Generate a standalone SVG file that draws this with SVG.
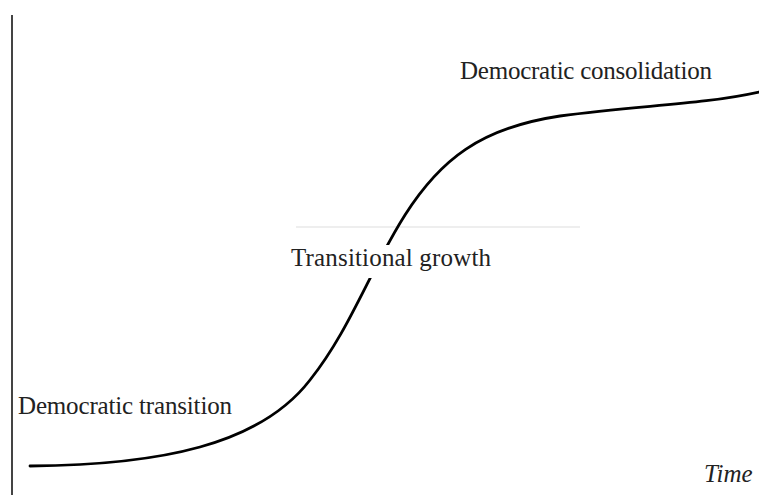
<svg xmlns="http://www.w3.org/2000/svg" width="759" height="495" viewBox="0 0 759 495">
<style>
.lbl{font-family:"Liberation Serif","Times New Roman",serif;font-size:25px;fill:#222;}
.curve{fill:none;stroke:#000;stroke-width:2.8;stroke-linecap:round;}
</style>
<defs>
<mask id="gap"><rect x="0" y="0" width="759" height="495" fill="#fff"/><rect x="285" y="245" width="215" height="33" fill="#000"/></mask>
</defs>
<rect width="759" height="495" fill="#fff"/>
<g id="connectors">
<line id="axis" x1="12" y1="15" x2="12" y2="495" stroke="#444" stroke-width="2"/>
<line id="guide" x1="296" y1="227" x2="580" y2="227" stroke="#ddd" stroke-width="1"/>
<path id="scurve" class="curve" mask="url(#gap)" d="M30,466 C160,465 260,445 310,380 C350,330 370,270 405,215 C440,160 480,128 560,116 C640,105 700,105 759,92"/>
</g>
<g id="n1"><text class="lbl" x="18" y="414" textLength="214">Democratic transition</text></g>
<g id="n2"><text class="lbl" x="291" y="266" textLength="200">Transitional growth</text></g>
<g id="n3"><text class="lbl" x="460" y="79" textLength="252">Democratic consolidation</text></g>
<g id="n4"><text class="lbl" x="704" y="482" font-style="italic" font-size="17">Time</text></g>
</svg>
